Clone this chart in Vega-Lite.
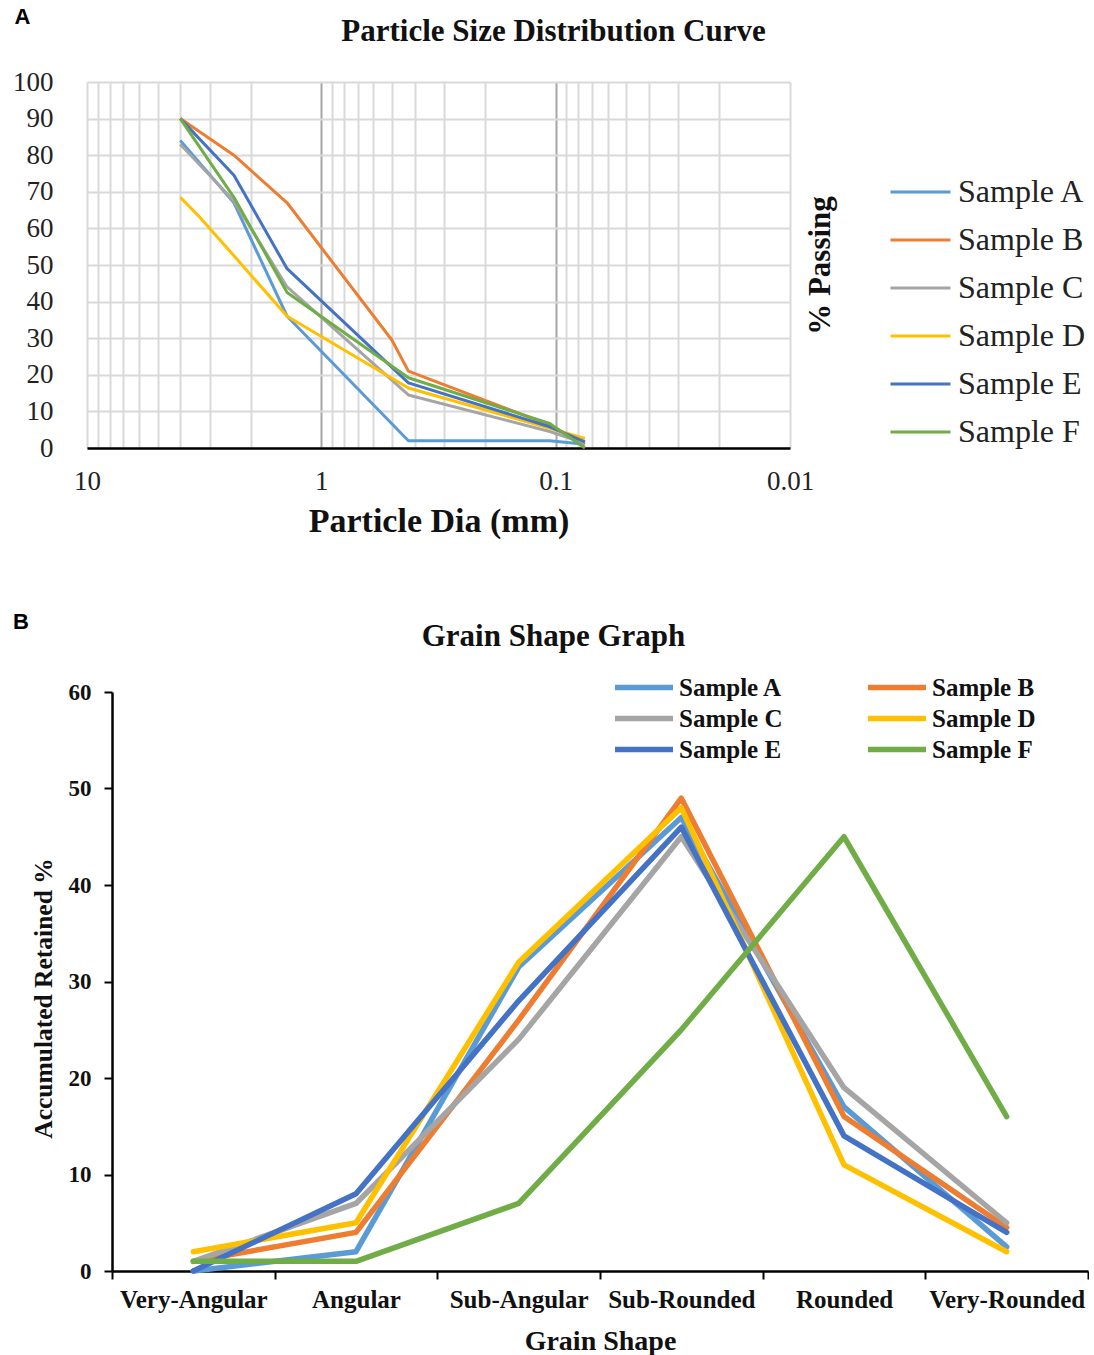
{
  "$schema": "https://vega.github.io/schema/vega-lite/v6.json",
  "padding": {"left": 12, "top": 6, "right": 0, "bottom": 0},
  "background": "white",
  "config": {"view": {"stroke": null}, "font": "Liberation Serif"},
  "spacing": 73,
  "resolve": {"scale": {"color": "independent"}, "legend": {"color": "independent"}},
  "datasets": {
    "psd": [
      {"sample": "Sample A", "size": 4, "passing": 84},
      {"sample": "Sample A", "size": 2.36, "passing": 67},
      {"sample": "Sample A", "size": 1.4, "passing": 36},
      {"sample": "Sample A", "size": 0.425, "passing": 2},
      {"sample": "Sample A", "size": 0.106, "passing": 2},
      {"sample": "Sample A", "size": 0.075, "passing": 1},
      {"sample": "Sample B", "size": 4, "passing": 90},
      {"sample": "Sample B", "size": 2.36, "passing": 80},
      {"sample": "Sample B", "size": 1.4, "passing": 67},
      {"sample": "Sample B", "size": 0.5, "passing": 29.5},
      {"sample": "Sample B", "size": 0.425, "passing": 21},
      {"sample": "Sample B", "size": 0.106, "passing": 6.3},
      {"sample": "Sample B", "size": 0.075, "passing": 1},
      {"sample": "Sample C", "size": 4, "passing": 83},
      {"sample": "Sample C", "size": 2.36, "passing": 67.5},
      {"sample": "Sample C", "size": 1.4, "passing": 44},
      {"sample": "Sample C", "size": 0.425, "passing": 14.5},
      {"sample": "Sample C", "size": 0.106, "passing": 4.5},
      {"sample": "Sample C", "size": 0.075, "passing": 1.3},
      {"sample": "Sample D", "size": 4, "passing": 68.5},
      {"sample": "Sample D", "size": 3.35, "passing": 63.5},
      {"sample": "Sample D", "size": 2.36, "passing": 52.5},
      {"sample": "Sample D", "size": 1.4, "passing": 36},
      {"sample": "Sample D", "size": 0.425, "passing": 16.4},
      {"sample": "Sample D", "size": 0.106, "passing": 5.4},
      {"sample": "Sample D", "size": 0.075, "passing": 2.6},
      {"sample": "Sample E", "size": 4, "passing": 90},
      {"sample": "Sample E", "size": 2.36, "passing": 74.5},
      {"sample": "Sample E", "size": 1.4, "passing": 49},
      {"sample": "Sample E", "size": 0.425, "passing": 17.8},
      {"sample": "Sample E", "size": 0.106, "passing": 5.8},
      {"sample": "Sample E", "size": 0.075, "passing": 1.7},
      {"sample": "Sample F", "size": 4, "passing": 90},
      {"sample": "Sample F", "size": 2.36, "passing": 68.5},
      {"sample": "Sample F", "size": 1.4, "passing": 42.5},
      {"sample": "Sample F", "size": 0.425, "passing": 19.2},
      {"sample": "Sample F", "size": 0.106, "passing": 6.7},
      {"sample": "Sample F", "size": 0.075, "passing": 0}
    ],
    "grain": [
      {"sample": "Sample A", "shape": "Very-Angular", "retained": 0},
      {"sample": "Sample A", "shape": "Angular", "retained": 2},
      {"sample": "Sample A", "shape": "Sub-Angular", "retained": 31.5},
      {"sample": "Sample A", "shape": "Sub-Rounded", "retained": 47},
      {"sample": "Sample A", "shape": "Rounded", "retained": 17},
      {"sample": "Sample A", "shape": "Very-Rounded", "retained": 2.5},
      {"sample": "Sample B", "shape": "Very-Angular", "retained": 1},
      {"sample": "Sample B", "shape": "Angular", "retained": 4},
      {"sample": "Sample B", "shape": "Sub-Angular", "retained": 26},
      {"sample": "Sample B", "shape": "Sub-Rounded", "retained": 49},
      {"sample": "Sample B", "shape": "Rounded", "retained": 16},
      {"sample": "Sample B", "shape": "Very-Rounded", "retained": 4.5},
      {"sample": "Sample C", "shape": "Very-Angular", "retained": 1},
      {"sample": "Sample C", "shape": "Angular", "retained": 7},
      {"sample": "Sample C", "shape": "Sub-Angular", "retained": 24},
      {"sample": "Sample C", "shape": "Sub-Rounded", "retained": 45},
      {"sample": "Sample C", "shape": "Rounded", "retained": 19},
      {"sample": "Sample C", "shape": "Very-Rounded", "retained": 5},
      {"sample": "Sample D", "shape": "Very-Angular", "retained": 2},
      {"sample": "Sample D", "shape": "Angular", "retained": 5},
      {"sample": "Sample D", "shape": "Sub-Angular", "retained": 32},
      {"sample": "Sample D", "shape": "Sub-Rounded", "retained": 48},
      {"sample": "Sample D", "shape": "Rounded", "retained": 11},
      {"sample": "Sample D", "shape": "Very-Rounded", "retained": 2},
      {"sample": "Sample E", "shape": "Very-Angular", "retained": 0},
      {"sample": "Sample E", "shape": "Angular", "retained": 8},
      {"sample": "Sample E", "shape": "Sub-Angular", "retained": 28},
      {"sample": "Sample E", "shape": "Sub-Rounded", "retained": 46},
      {"sample": "Sample E", "shape": "Rounded", "retained": 14},
      {"sample": "Sample E", "shape": "Very-Rounded", "retained": 4},
      {"sample": "Sample F", "shape": "Very-Angular", "retained": 1},
      {"sample": "Sample F", "shape": "Angular", "retained": 1},
      {"sample": "Sample F", "shape": "Sub-Angular", "retained": 7},
      {"sample": "Sample F", "shape": "Sub-Rounded", "retained": 25},
      {"sample": "Sample F", "shape": "Rounded", "retained": 45},
      {"sample": "Sample F", "shape": "Very-Rounded", "retained": 16}
    ]
  },
  "vconcat": [
    {
      "width": 678,
      "height": 366,
      "data": {"name": "psd"},
      "title": {"text": "A", "anchor": "start", "frame": "bounds", "font": "Liberation Sans", "fontSize": 22, "fontWeight": "bold", "color": "#000", "offset": -14, "dx": 2},
      "layer": [
        {
          "mark": {"type": "line", "strokeWidth": 3, "strokeJoin": "round"},
          "encoding": {
            "x": {
              "field": "size", "type": "quantitative",
              "scale": {"type": "log", "domain": [10, 0.01], "range": [-25, 678], "nice": false, "zero": false},
              "axis": {
                "values": [10, 9, 8, 7, 6, 5, 4, 3, 2, 1, 0.9, 0.8, 0.7, 0.6, 0.5, 0.4, 0.3, 0.2, 0.1, 0.09, 0.08, 0.07, 0.06, 0.05, 0.04, 0.03, 0.02, 0.01],
                "labelExpr": "datum.value == 10 ? '10' : datum.value == 1 ? '1' : datum.value == 0.1 ? '0.1' : datum.value == 0.01 ? '0.01' : ''",
                "labelFont": "Liberation Serif", "labelFontSize": 27, "labelColor": "#222",
                "labelPadding": 20, "labelFlush": false, "labelOverlap": false,
                "ticks": false, "tickSize": 0,
                "domainColor": "#000", "domainWidth": 2.5,
                "grid": true,
                "gridColor": {"condition": {"test": "datum.value == 1 || datum.value == 0.1", "value": "#a6a6a6"}, "value": "#d9d9d9"},
                "gridWidth": 2, "gridOpacity": 1,
                "title": "Particle Dia (mm)", "titleFont": "Liberation Serif", "titleFontSize": 34, "titleFontWeight": "bold", "titleColor": "#111", "titlePadding": 10
              }
            },
            "y": {
              "field": "passing", "type": "quantitative",
              "scale": {"domain": [0, 100], "nice": false},
              "axis": {
                "values": [0, 10, 20, 30, 40, 50, 60, 70, 80, 90, 100],
                "labelFont": "Liberation Serif", "labelFontSize": 27, "labelColor": "#222",
                "labelPadding": 59, "ticks": false, "tickSize": 0, "domain": false,
                "grid": true, "gridColor": "#d9d9d9", "gridWidth": 2, "gridOpacity": 1,
                "title": "% Passing", "titleFont": "Liberation Serif", "titleFontSize": 31, "titleFontWeight": "bold", "titleColor": "#111",
                "titleX": 708, "titleY": 183, "titleAngle": 270, "titleAlign": "center", "titleBaseline": "middle"
              }
            },
            "color": {
              "field": "sample", "type": "nominal",
              "scale": {"domain": ["Sample A", "Sample B", "Sample C", "Sample D", "Sample E", "Sample F"], "range": ["#5B9BD5", "#ED7D31", "#A5A5A5", "#FFC000", "#4472C4", "#70AD47"]},
              "legend": {
                "orient": "none", "legendX": 777, "legendY": 86, "title": null,
                "symbolType": "stroke", "symbolSize": 3600, "symbolStrokeWidth": 3,
                "labelFont": "Liberation Serif", "labelFontSize": 32, "labelColor": "#222", "labelOffset": 6, "labelLimit": 300,
                "clipHeight": 48, "rowPadding": 0, "padding": 0
              }
            }
          }
        },
        {
          "mark": {"type": "rule", "opacity": 0},
          "encoding": {
            "x": {
              "field": "size", "type": "quantitative",
              "axis": {"orient": "top", "labels": false, "ticks": false, "domain": false, "grid": false,
                "title": "Particle Size Distribution Curve", "titleFont": "Liberation Serif", "titleFontSize": 31, "titleFontWeight": "bold", "titleColor": "#111",
                "titleX": 441, "titleY": -51, "titleAlign": "center", "titleBaseline": "middle", "titleAnchor": "middle"}
            }
          }
        }
      ],
      "resolve": {"axis": {"x": "independent"}}
    },
    {
      "width": 976,
      "height": 579,
      "data": {"name": "grain"},
      "title": {"text": "B", "anchor": "start", "frame": "bounds", "font": "Liberation Sans", "fontSize": 22, "fontWeight": "bold", "color": "#000", "offset": -14, "dx": -18},
      "layer": [
        {
          "mark": {"type": "line", "strokeWidth": 5.5, "strokeJoin": "round", "strokeCap": "round"},
          "encoding": {
            "x": {
              "field": "shape", "type": "nominal",
              "sort": ["Very-Angular", "Angular", "Sub-Angular", "Sub-Rounded", "Rounded", "Very-Rounded"],
              "bandPosition": 0.5,
              "scale": {"type": "band", "paddingInner": 0, "paddingOuter": 0},
              "axis": {
                "tickBand": "extent", "tickSize": 8, "tickWidth": 2, "tickColor": "#000",
                "domainColor": "#000", "domainWidth": 2.5, "labelAngle": 0,
                "labelFont": "Liberation Serif", "labelFontSize": 25, "labelFontWeight": "bold", "labelColor": "#111", "labelPadding": 8,
                "title": "Grain Shape", "titleFont": "Liberation Serif", "titleFontSize": 28, "titleFontWeight": "bold", "titleColor": "#111", "titlePadding": 15,
                "grid": false
              }
            },
            "y": {
              "field": "retained", "type": "quantitative",
              "scale": {"domain": [0, 60], "nice": false},
              "axis": {
                "values": [0, 10, 20, 30, 40, 50, 60],
                "tickSize": 8, "tickWidth": 2, "tickColor": "#000",
                "domainColor": "#000", "domainWidth": 2.5,
                "labelFont": "Liberation Serif", "labelFontSize": 23, "labelFontWeight": "bold", "labelColor": "#111", "labelPadding": 13,
                "title": "Accumulated Retained %", "titleFont": "Liberation Serif", "titleFontSize": 25.5, "titleFontWeight": "bold", "titleColor": "#111", "titlePadding": 12,
                "titleY": 306,
                "grid": false
              }
            },
            "color": {
              "field": "sample", "type": "nominal",
              "scale": {"domain": ["Sample A", "Sample B", "Sample C", "Sample D", "Sample E", "Sample F"], "range": ["#5B9BD5", "#ED7D31", "#A5A5A5", "#FFC000", "#4472C4", "#70AD47"]},
              "legend": {
                "orient": "none", "legendX": 500, "legendY": -20, "title": null, "columns": 2, "direction": "horizontal",
                "symbolType": "stroke", "symbolSize": 3364, "symbolStrokeWidth": 5.5,
                "labelFont": "Liberation Serif", "labelFontSize": 25, "labelFontWeight": "bold", "labelColor": "#111", "labelOffset": 3,
                "clipHeight": 31, "rowPadding": 0, "columnPadding": 82, "padding": 0
              }
            }
          }
        },
        {
          "mark": {"type": "rule", "opacity": 0},
          "encoding": {
            "x": {
              "field": "shape", "type": "nominal",
              "sort": ["Very-Angular", "Angular", "Sub-Angular", "Sub-Rounded", "Rounded", "Very-Rounded"],
              "axis": {"orient": "top", "labels": false, "ticks": false, "domain": false, "grid": false,
                "title": "Grain Shape Graph", "titleFont": "Liberation Serif", "titleFontSize": 31, "titleFontWeight": "bold", "titleColor": "#111",
                "titleX": 441, "titleY": -56, "titleAlign": "center", "titleBaseline": "middle", "titleAnchor": "middle"}
            }
          }
        }
      ],
      "resolve": {"axis": {"x": "independent"}}
    }
  ]
}
